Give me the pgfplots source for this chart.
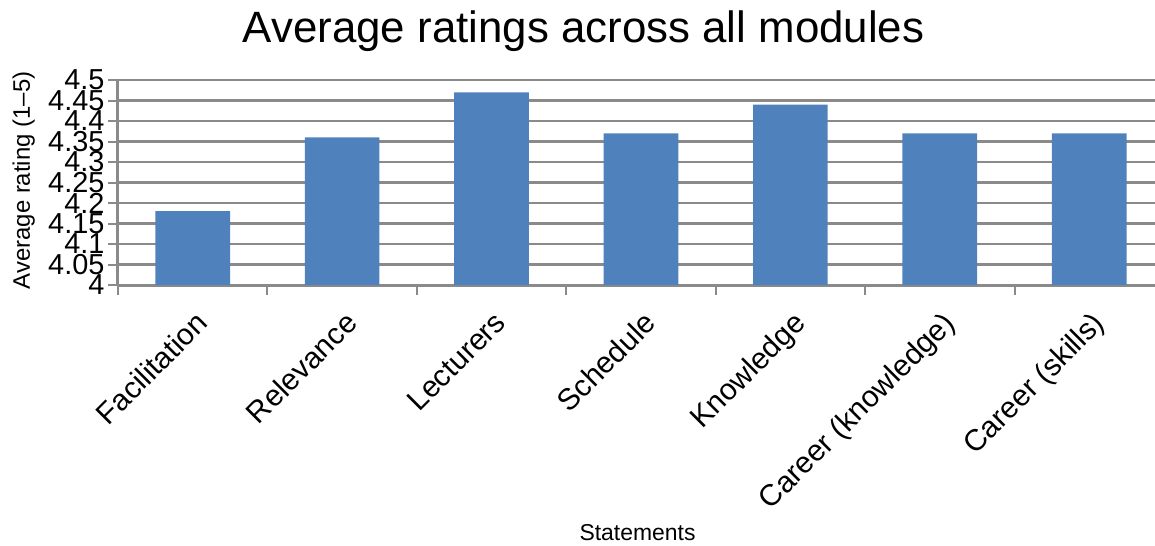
\documentclass[border=0pt]{standalone}
\usepackage{fontspec}
\setmainfont{Liberation Sans}
\usepackage{pgfplots}
\pgfplotsset{compat=1.18}
\definecolor{barblue}{HTML}{4F81BD}
\definecolor{gridgray}{HTML}{8A8A8A}

\begin{document}
\begin{tikzpicture}
\begin{axis}[
    width=1037bp, height=205bp, scale only axis,
    xmin=-0.5, xmax=6.44,
    ymin=4, ymax=4.5,
    axis x line*=bottom, axis y line*=left,
    axis line style={gridgray, line width=3bp},
    ytick={4,4.05,4.1,4.15,4.2,4.25,4.3,4.35,4.4,4.45,4.5},
    yticklabels={4,4.05,4.1,4.15,4.2,4.25,4.3,4.35,4.4,4.45,4.5},
    ymajorgrids,
    major grid style={gridgray, line width=2.8bp},
    xtick={0,1,2,3,4,5,6},
    xticklabels={Facilitation, Relevance, Lecturers, Schedule, Knowledge, Career (knowledge), Career (skills)},
    major x tick style={draw=none},
    minor xtick={-0.5,0.5,1.5,2.5,3.5,4.5,5.5},
    tick align=outside,
    major tick length=10bp, minor tick length=10bp,
    tick style={gridgray, line width=2bp},
    x tick label style={rotate=45, anchor=north east, yshift=-8bp, xshift=-6bp, font=\fontsize{30}{32}\selectfont},
    y tick label style={font=\fontsize{29}{30}\selectfont},
    /pgf/number format/assume math mode=true,
    ylabel={Average rating (1–5)},
    ylabel style={at={(axis description cs:-0.091,0.51)}, anchor=center, font=\fontsize{24}{26}\selectfont},
    xlabel={Statements},
    xlabel style={at={(axis description cs:0.501,-1.21)}, anchor=center, font=\fontsize{23}{25}\selectfont},
    title={Average ratings across all modules},
    title style={at={(axis description cs:0.449,1.156)}, anchor=base, font=\fontsize{44}{46}\selectfont},
]
\addplot[ybar, bar width=0.5, fill=barblue, draw=none] coordinates {
    (0,4.18) (1,4.36) (2,4.47) (3,4.37) (4,4.44) (5,4.37) (6,4.37)
};
\end{axis}
\pgfresetboundingbox
\path (-118bp,-261bp) rectangle (1037bp,285bp);
\end{tikzpicture}
\end{document}
